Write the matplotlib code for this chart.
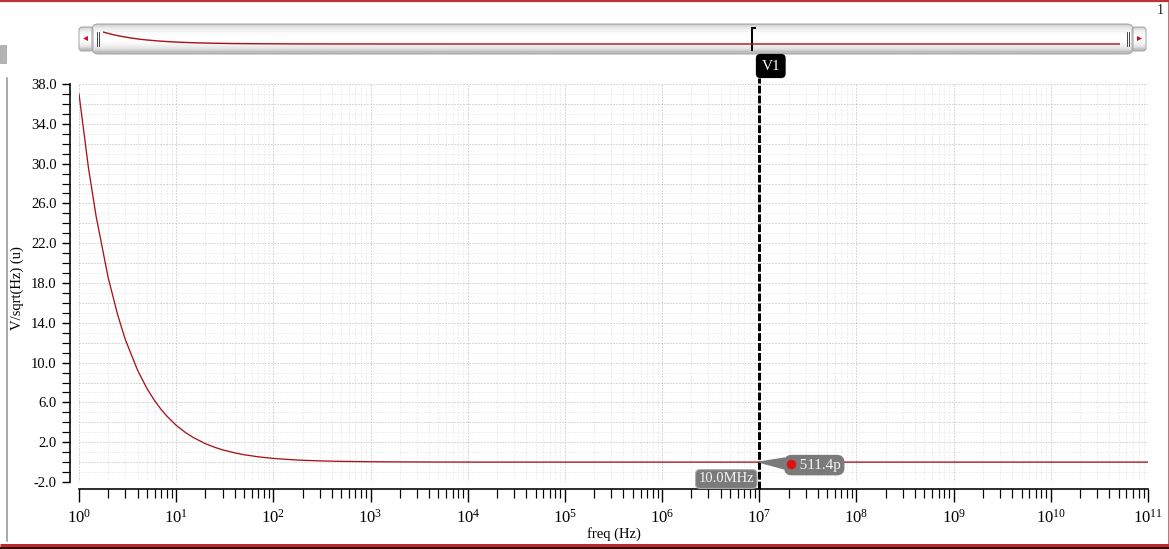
import numpy as np
import matplotlib
matplotlib.use("Agg")
import matplotlib.pyplot as plt
from matplotlib.patches import FancyBboxPatch, Polygon
from matplotlib.ticker import LogLocator, MultipleLocator, FixedLocator, FormatStrFormatter, NullFormatter

# noise spectrum (V/sqrt(Hz), in u)
freq = [1, 1.25, 1.5, 2, 2.5, 3, 4, 5, 6, 7, 8, 10, 12.5, 15, 20, 25, 30, 40, 50, 70,
        100, 150, 200, 300, 500, 1000, 2000, 5000, 9999, 1e4, 1e5, 1e6, 1e7, 1e8, 1e9, 1e10, 1e11]
noise = [37.0, 29.6, 24.7, 18.5, 14.8, 12.3, 9.25, 7.4, 6.17, 5.29, 4.63, 3.7, 2.96, 2.47, 1.85, 1.48, 1.23, 0.93, 0.74, 0.53,
         0.37, 0.25, 0.185, 0.123, 0.074, 0.037, 0.0185, 0.0074, 0.0037, 0.0005, 0.0005, 0.0005, 0.0005, 0.0005, 0.0005, 0.0005, 0.0005]

cursor_freq = 1e7
cursor_name = "V1"
cursor_x_label = "10.0MHz"
cursor_y_label = "511.4p"
cursor_y_value = 0.0005

yticks = [-2, 2, 6, 10, 14, 18, 22, 26, 30, 34, 38]
xticks = [1e0, 1e1, 1e2, 1e3, 1e4, 1e5, 1e6, 1e7, 1e8, 1e9, 1e10, 1e11]

plt.rcParams['font.family'] = ['Liberation Serif', 'DejaVu Serif']
plt.rcParams['mathtext.fontset'] = 'custom'
plt.rcParams['mathtext.rm'] = 'Liberation Serif'
plt.rcParams['mathtext.it'] = 'Liberation Serif:italic'
plt.rcParams['axes.unicode_minus'] = False

W, H = 1169, 549
fig = plt.figure(figsize=(W / 100, H / 100), dpi=100)

RED = '#a8101c'
PX = 72 / 100  # points per pixel

# overlay in pixel coords for the window decorations
ov = fig.add_axes([0, 0, 1, 1], zorder=0)
ov.set_xlim(0, W)
ov.set_ylim(H, 0)
ov.set_xticks([])
ov.set_yticks([])
ov.axis('off')

ov.plot([0, W], [1, 1], color='#c03038', lw=2.2 * PX, solid_capstyle='butt')
ov.plot([0, W], [544.5, 544.5], color='#c02830', lw=3 * PX, solid_capstyle='butt')
ov.plot([0, W], [547.5, 547.5], color='#301010', lw=2 * PX, solid_capstyle='butt')
ov.plot([1168, 1168], [2, 543], color='#b08080', lw=1 * PX)
ov.plot([6.5, 6.5], [78, 541], color='#909090', lw=1.5 * PX)
ov.add_patch(FancyBboxPatch((0, 45), 6, 18, boxstyle='square,pad=0', fc='#b4b4b4', ec='#a0a0a0', lw=0.5))
ov.text(1160, 10, "1", fontsize=10, ha='center', va='center', color='#202020')

# scroll bar
grad = np.linspace(0, 1, 64).reshape(-1, 1)
grad_vals = 0.74 + 0.26 * np.sin(np.pi * np.clip(grad * 1.1, 0, 1)) ** 0.5
for (x0, x1, y0, y1, r) in [(79, 93, 27, 51, 3), (1132, 1146, 27, 51, 3), (92, 1133, 24, 54, 6)]:
    box = FancyBboxPatch((x0, y0), x1 - x0, y1 - y0, boxstyle='round,pad=0,rounding_size=%d' % r,
                         fc='none', ec='#a4a4a4', lw=1 * PX, zorder=3)
    ov.add_patch(box)
    im = ov.imshow(grad_vals, cmap='gray', vmin=0, vmax=1, extent=(x0, x1, y1, y0),
                   aspect='auto', interpolation='bilinear', zorder=2)
    im.set_clip_path(box)
ov.set_xlim(0, W)
ov.set_ylim(H, 0)
ov.add_patch(Polygon([[83, 38.5], [88, 36], [88, 41]], closed=True, fc='#d01020', ec='none', zorder=4))
ov.add_patch(Polygon([[1142, 38.5], [1137, 36], [1137, 41]], closed=True, fc='#d01020', ec='none', zorder=4))
for gx in (96.5, 98.5, 1126.5, 1128.5):
    ov.plot([gx, gx], [32, 46], color='#202020', lw=0.8 * PX, zorder=4)
ov.plot([752, 752], [28, 50], color='black', lw=2 * PX, zorder=4)
ov.plot([752, 755], [28, 28], color='black', lw=2 * PX, zorder=4)

# small overview curve inside the scroll bar
mini = fig.add_axes([103 / W, 1 - 46 / H, 1017 / W, 16 / H], zorder=2)
mini.set_xscale('log')
mini.plot(freq, noise, color=RED, lw=1)
mini.set_xlim(1, 1e11)
mini.set_ylim(-6.2, 43.2)
mini.set_xticks([])
mini.set_xticks([], minor=True)
mini.set_yticks([])
mini.axis('off')

# main axes
ax = fig.add_axes([79 / W, 1 - 482 / H, (1148 - 79) / W, (482 - 84) / H], zorder=1)
ax.patch.set_alpha(0)
ax.set_xscale('log')
ax.plot(freq, noise, color=RED, lw=1.3 * PX, zorder=3)
ax.set_xlim(1, 1e11)
ax.set_ylim(-2, 38)

ax.xaxis.set_major_locator(FixedLocator(xticks))
ax.set_xticklabels([r'$\mathregular{10^{%d}}$' % int(round(np.log10(v))) for v in xticks])
ax.xaxis.set_minor_locator(LogLocator(base=10, subs=np.arange(2, 10), numticks=200))
ax.xaxis.set_minor_formatter(NullFormatter())
ax.yaxis.set_major_locator(FixedLocator(yticks))
ax.yaxis.set_major_formatter(FormatStrFormatter('%.1f'))
ax.yaxis.set_minor_locator(MultipleLocator(1))

# grid: darker dotted every 2 units / decade, lighter on the rest
for gy in np.arange(-2, 39, 1):
    dark = (gy % 2 == 0)
    ax.axhline(gy, color='#b4b4b4' if dark else '#e0e0e0', lw=1 * PX, ls=(0, (1, 2)), zorder=1)
ax.grid(True, which='major', axis='x', color='#b4b4b4', lw=1 * PX, ls=(0, (1, 2)))
ax.grid(True, which='minor', axis='x', color='#e0e0e0', lw=1 * PX, ls=(0, (1, 2)))
ax.set_axisbelow(True)

for s in ('top', 'right'):
    ax.spines[s].set_visible(False)
ax.spines['left'].set_position(('outward', 9 * PX))
ax.spines['bottom'].set_position(('outward', 7 * PX))
ax.spines['left'].set_linewidth(1.6 * PX)
ax.spines['bottom'].set_linewidth(1.6 * PX)

ax.tick_params(axis='x', which='major', length=13 * PX, width=1.4 * PX, pad=5, labelsize=12)
ax.tick_params(axis='x', which='minor', length=9 * PX, width=1.2 * PX)
ax.tick_params(axis='y', which='major', length=8 * PX, width=1.4 * PX, pad=4, labelsize=10.5)
ax.tick_params(axis='y', which='minor', length=8 * PX, width=1.2 * PX)

ax.set_xlabel("freq (Hz)", fontsize=10.5)
ax.xaxis.set_label_coords(0.5, -0.113)
ax.set_ylabel("V/sqrt(Hz) (u)", fontsize=10.5)
ax.yaxis.set_label_coords(-0.0515, 0.487)

# vertical cursor
ax.axvline(cursor_freq, ymin=-0.018, ymax=1.015, clip_on=False, color='black', lw=3 * PX,
           ls=(0, (2.6, 0.7)), zorder=5)
ax.annotate(cursor_name, xy=(cursor_freq, 1.0), xycoords=('data', 'axes fraction'),
            xytext=(11.5, 18), textcoords='offset pixels', ha='center', va='center',
            color='white', fontsize=11, zorder=6, annotation_clip=False,
            bbox=dict(boxstyle='round,pad=0.32,rounding_size=0.25', fc='black', ec='black'))
ax.annotate(cursor_x_label, xy=(cursor_freq, 0.0), xycoords=('data', 'axes fraction'),
            xytext=(-33, 3), textcoords='offset pixels', ha='center', va='center',
            color='#f4f4f4', fontsize=10.5, zorder=6, annotation_clip=False,
            bbox=dict(boxstyle='round,pad=0.2,rounding_size=0.3', fc='#7a7a7a', ec='#b0b0b0', lw=0.8))
ax.annotate("   " + cursor_y_label, xy=(cursor_freq, cursor_y_value), xycoords='data',
            xytext=(55, -3), textcoords='offset pixels', ha='center', va='center',
            color='#f4f4f4', fontsize=11, zorder=6, annotation_clip=False,
            bbox=dict(boxstyle='round,pad=0.2,rounding_size=0.45', fc='#7a7a7a', ec='#7a7a7a'),
            arrowprops=dict(arrowstyle='wedge,tail_width=0.7,shrink_factor=0.5', fc='#7a7a7a', ec='#7a7a7a',
                            shrinkA=0, shrinkB=0))
ax.plot([cursor_freq], [cursor_y_value], 'o', color='#e01010', ms=8 * PX, zorder=7,
        transform=matplotlib.transforms.offset_copy(ax.transData, fig, x=32, y=-2, units='dots'))

fig.savefig("out.png", dpi=100)
